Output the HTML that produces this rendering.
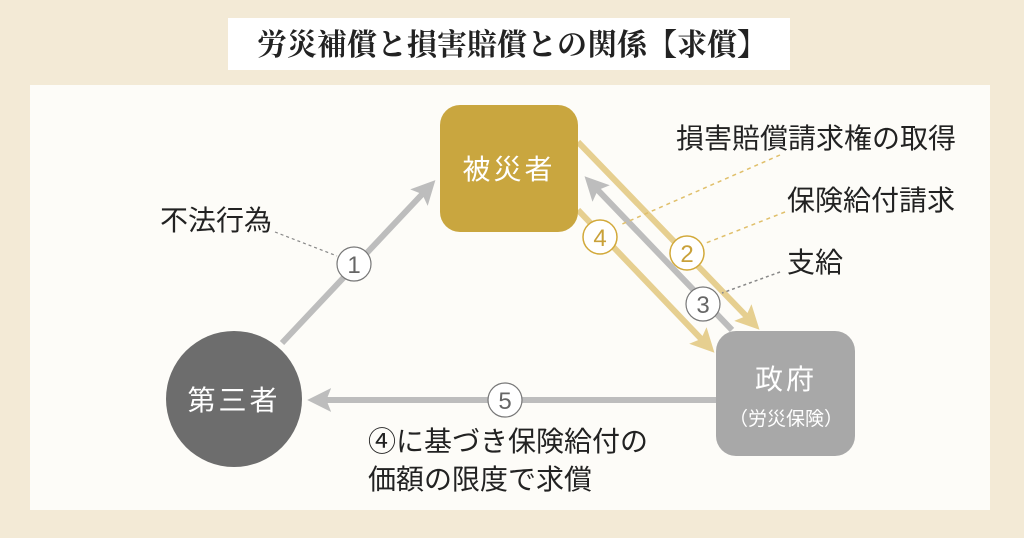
<!DOCTYPE html>
<html><head><meta charset="utf-8"><style>
html,body{margin:0;padding:0;width:1024px;height:538px;overflow:hidden;background:#f3ead6;}
svg{display:block;font-family:"Liberation Sans","Noto Sans CJK JP",sans-serif;}
</style></head><body>
<svg width="1024" height="538" viewBox="0 0 1024 538">
<defs>
<marker id="ag" markerWidth="4" markerHeight="4" refX="2.2" refY="2" orient="auto" markerUnits="strokeWidth"><path d="M0,0 L4,2 L0,4 L0.8,2 Z" fill="#bdbdbd"/></marker>
<marker id="ay" markerWidth="4" markerHeight="4" refX="2.2" refY="2" orient="auto" markerUnits="strokeWidth"><path d="M0,0 L4,2 L0,4 L0.8,2 Z" fill="#e6cf90"/></marker>
</defs>
<rect x="0" y="0" width="1024" height="538" fill="#f3ead6"/>
<rect x="30" y="85" width="960" height="425" fill="#fdfcf8"/>
<rect x="228" y="18" width="562" height="52" fill="#ffffff"/>
<text x="512" y="55" font-size="30" font-weight="bold" text-anchor="middle" fill="#222" font-family="'Noto Serif CJK SC','Liberation Serif',serif">労災補償と損害賠償との関係【求償】</text>

<line x1="282" y1="343" x2="428" y2="188" stroke="#bdbdbd" stroke-width="6" marker-end="url(#ag)"/>
<line x1="716" y1="400" x2="318" y2="400" stroke="#bdbdbd" stroke-width="6" marker-end="url(#ag)"/>
<line x1="578" y1="142" x2="752" y2="322" stroke="#e6cf90" stroke-width="6" marker-end="url(#ay)"/>
<line x1="578" y1="210" x2="707" y2="345" stroke="#e6cf90" stroke-width="6" marker-end="url(#ay)"/>
<line x1="732" y1="330" x2="592" y2="184" stroke="#bdbdbd" stroke-width="6" marker-end="url(#ag)"/>

<line x1="275" y1="232" x2="337" y2="256" stroke="#888" stroke-width="1.2" stroke-dasharray="3,3"/>
<line x1="780" y1="155" x2="620" y2="225" stroke="#e0bf6a" stroke-width="1.5" stroke-dasharray="4,4"/>
<line x1="785" y1="212" x2="706" y2="243" stroke="#e0bf6a" stroke-width="1.5" stroke-dasharray="4,4"/>
<line x1="780" y1="272" x2="722" y2="293" stroke="#888" stroke-width="1.5" stroke-dasharray="3,3"/>

<rect x="440" y="105" width="138" height="127" rx="20" fill="#c9a63f"/>
<text x="509" y="179" font-size="28" fill="#fff" text-anchor="middle" letter-spacing="3">被災者</text>
<rect x="716" y="331" width="139" height="125" rx="20" fill="#a8a8a8"/>
<text x="786" y="389" font-size="28" fill="#fff" text-anchor="middle" letter-spacing="3">政府</text>
<text x="786" y="425" font-size="19" fill="#fff" text-anchor="middle">（労災保険）</text>
<circle cx="234" cy="399" r="68" fill="#6d6d6d"/>
<text x="234" y="410" font-size="28" fill="#fff" text-anchor="middle" letter-spacing="3">第三者</text>

<g font-size="24" text-anchor="middle">
<circle cx="354" cy="264" r="17" fill="#fff" stroke="#777" stroke-width="1.2"/>
<text x="354" y="273" fill="#666">1</text>
<circle cx="600" cy="237" r="17" fill="#fff" stroke="#d2a93a" stroke-width="1.5"/>
<text x="600" y="246" fill="#c9a13a">4</text>
<circle cx="687" cy="253" r="17" fill="#fff" stroke="#d2a93a" stroke-width="1.5"/>
<text x="687" y="262" fill="#c9a13a">2</text>
<circle cx="703" cy="304" r="17" fill="#fff" stroke="#777" stroke-width="1.2"/>
<text x="703" y="313" fill="#666">3</text>
<circle cx="505" cy="400" r="17" fill="#fff" stroke="#777" stroke-width="1.2"/>
<text x="505" y="409" fill="#666">5</text>
</g>

<g font-size="28" fill="#222">
<text x="676" y="148">損害賠償請求権の取得</text>
<text x="787" y="210">保険給付請求</text>
<text x="787" y="272">支給</text>
<text x="160" y="230">不法行為</text>
<text x="368" y="451">④に基づき保険給付の</text>
<text x="368" y="489">価額の限度で求償</text>
</g>
</svg>
</body></html>
